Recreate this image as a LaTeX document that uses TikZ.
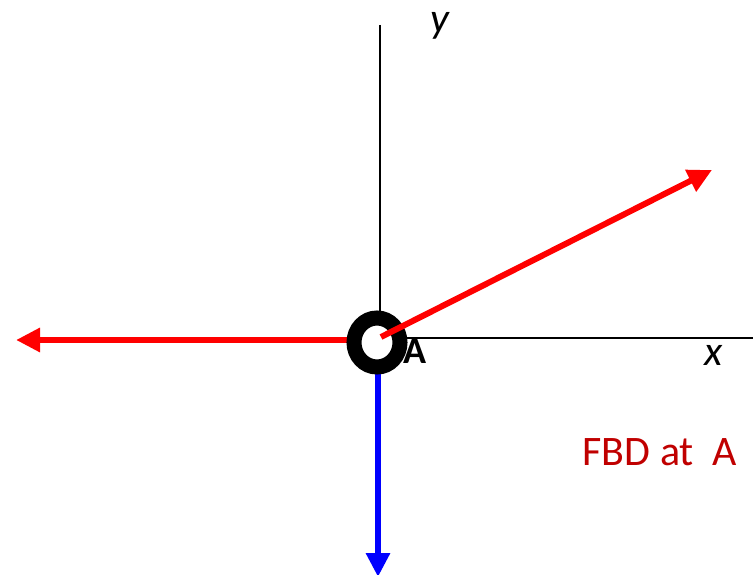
\documentclass[tikz,border=0pt]{standalone}
\usepackage{fontspec}
\setmainfont{Carlito}
\usetikzlibrary{arrows.meta,shapes.geometric}
\definecolor{fbdred}{HTML}{C00000}
\tikzset{
  axis/.style={black, line width=1.1pt},
  force/.style={line width=6pt, -{Triangle[length=24pt,width=23pt]}},
  lbl/.style={inner sep=0pt, font=\fontsize{42}{46}\selectfont\itshape},
}
\begin{document}
\begin{tikzpicture}[x=1pt,y=-1pt]
\useasboundingbox (0,0) rectangle (753,575);
\coordinate (A) at (377,342.5);
\coordinate (ytop) at (380,25);
\coordinate (yorg) at (380,322);
\coordinate (xorg) at (398,338);
\coordinate (xend) at (753,338);
\coordinate (Lend) at (16,340);
\coordinate (Lstart) at (360,340);
\coordinate (Dstart) at (378,362);
\coordinate (Dend) at (378,577);
\coordinate (Rstart) at (381,337);
\coordinate (Rend) at (712,170);
\draw[axis] (ytop) -- (yorg);
\draw[axis] (xorg) -- (xend);
\draw[force, red] (Lstart) -- (Lend);
\draw[force, blue] (Dstart) -- (Dend);
\node[draw=black, line width=15pt, ellipse, minimum width=46pt, minimum height=49pt, inner sep=0pt] (ring) at (A) {};
\draw[force, red] (Rstart) -- (Rend);
\node[inner sep=0pt, font=\fontsize{38}{40}\selectfont\bfseries] (Alab) at (415,351) {A};
\node[lbl] (xlab) at (714,355) {x};
\node[lbl] (ylab) at (440,26) {y};
\node[inner sep=0pt, text=fbdred, font=\fontsize{42}{46}\selectfont] (fbd) at (660,452) {FBD at\ \ A};
\end{tikzpicture}
\end{document}
